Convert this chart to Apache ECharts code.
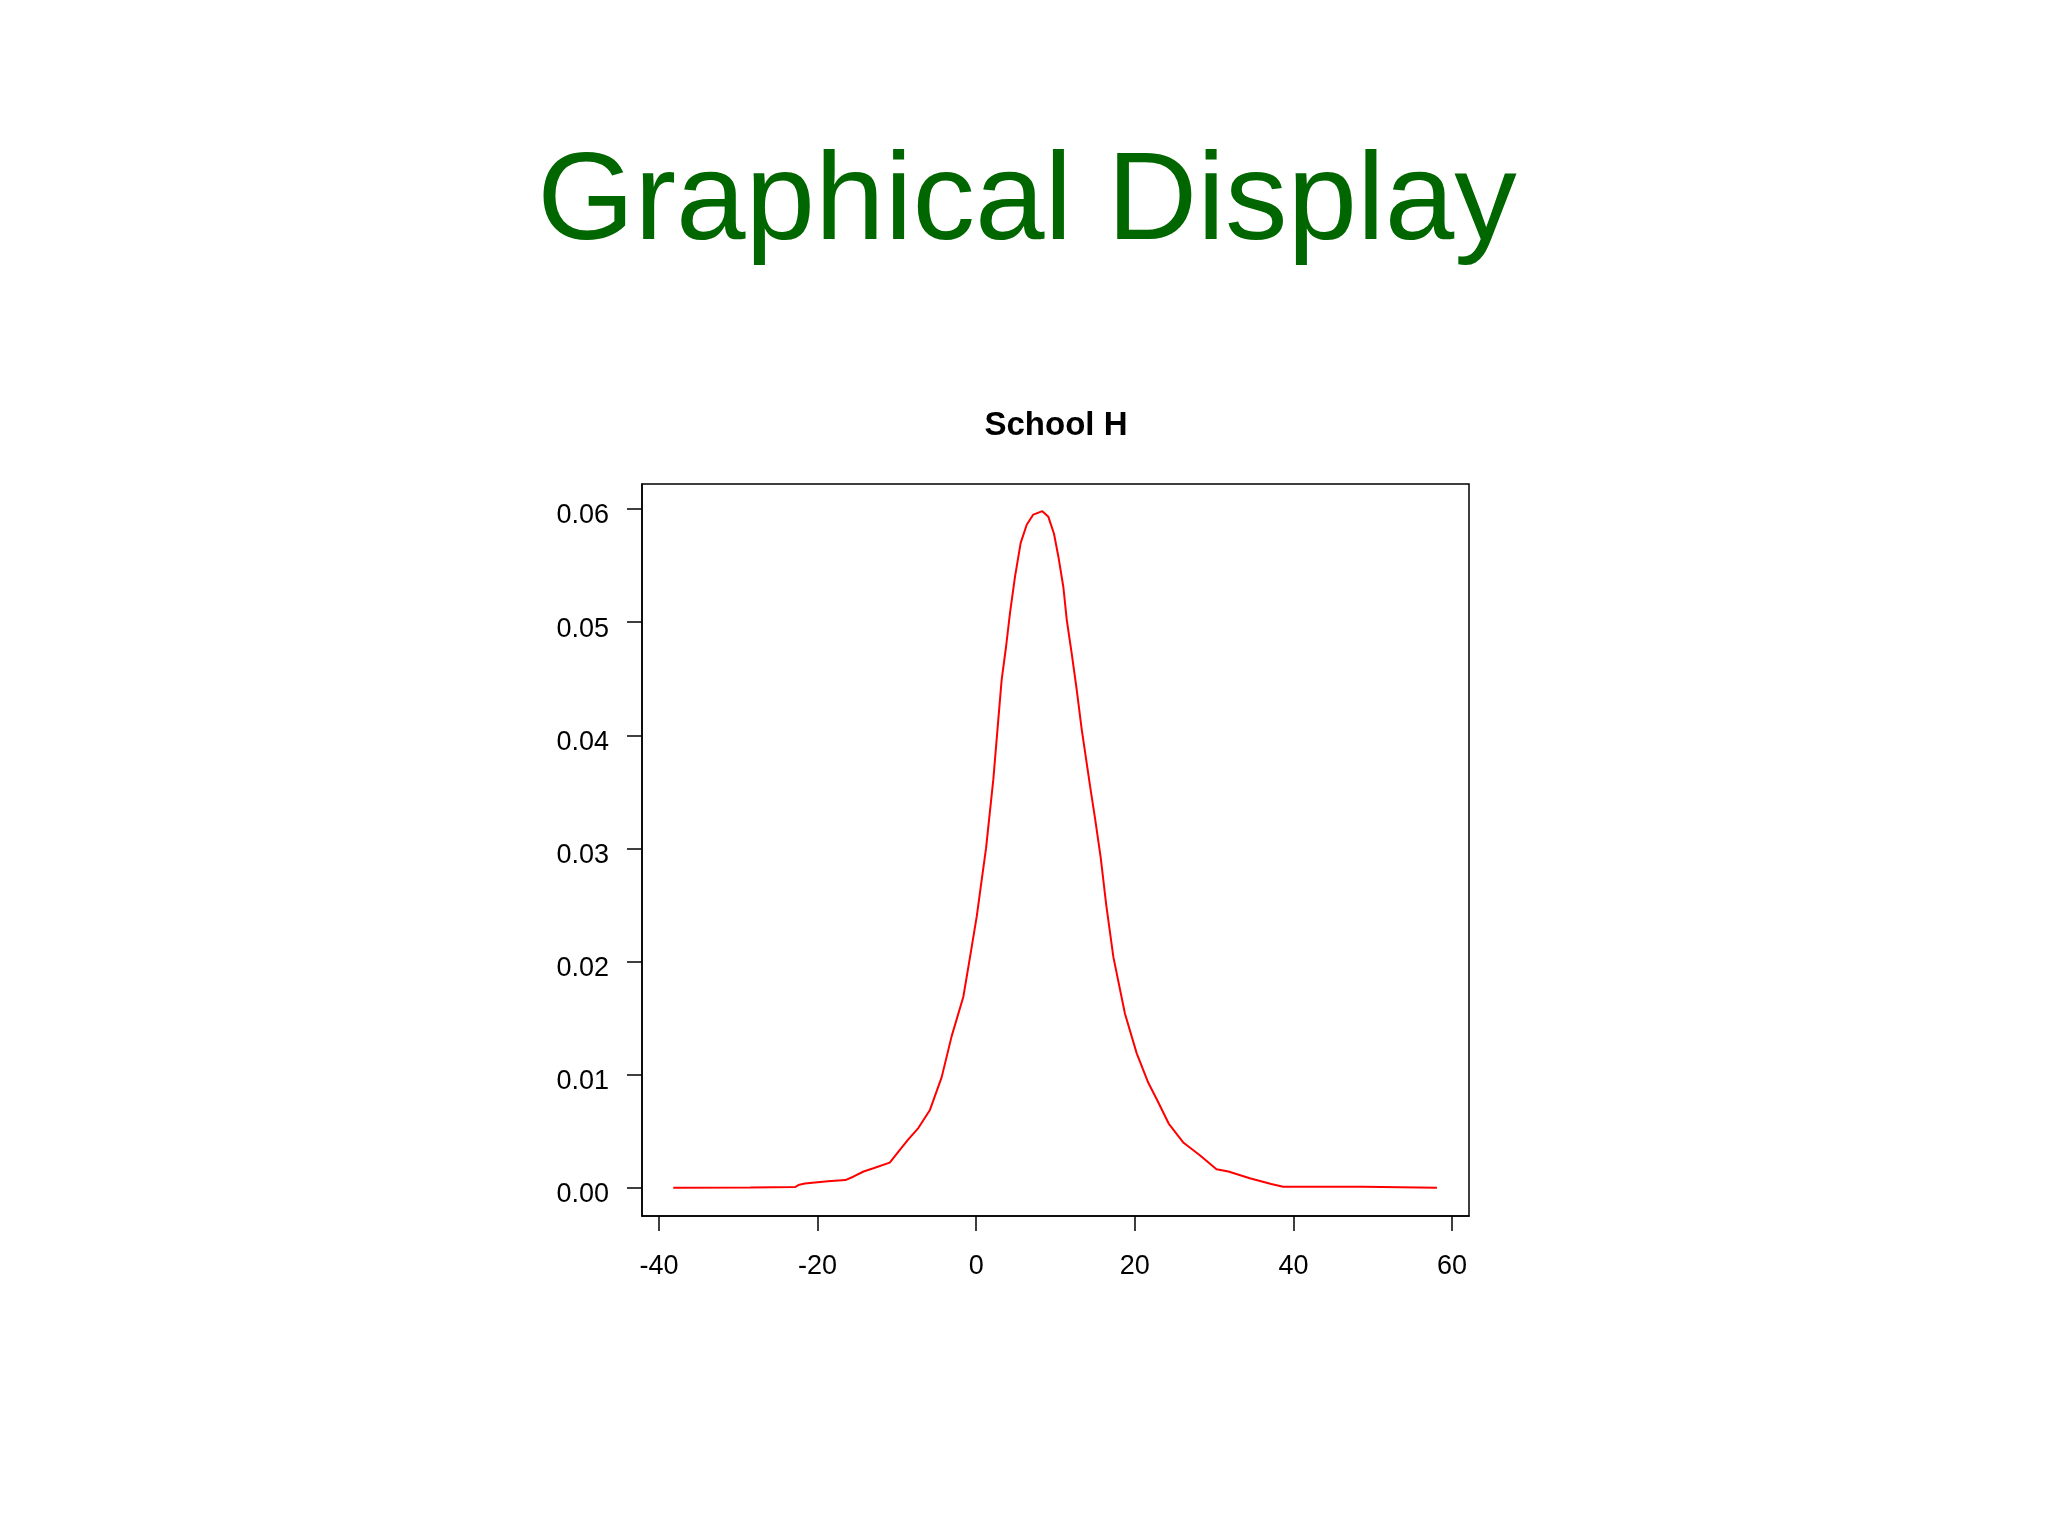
<!DOCTYPE html>
<html>
<head>
<meta charset="utf-8">
<script src="https://cdn.jsdelivr.net/npm/echarts@6/dist/echarts.min.js"></script>
<style>
html,body{margin:0;padding:0;background:#fff;}
#c{width:2048px;height:1536px;}
</style>
</head>
<body>
<div id="c"></div>
<script>
const pageTitle = "Graphical Display";
const chartTitle = "School H";
const xTicks = [-40, -20, 0, 20, 40, 60];
const yTicks = [0, 0.01, 0.02, 0.03, 0.04, 0.05, 0.06];
const densityX = [-38.2, -28.5, -28.4, -22.8, -22.3, -21.6, -18.7, -16.5, -15.5, -14.2, -12.96, -10.9, -9.6, -8.56, -7.3, -5.83, -4.35, -3.1, -1.62, -0.78, 0.07, 0.69, 1.24, 2.16, 2.79, 3.21, 3.76, 4.26, 4.89, 5.61, 6.37, 7.2, 8.34, 9.1, 9.81, 10.36, 10.99, 11.42, 12.05, 12.68, 13.31, 14.36, 15.0, 15.7, 16.4, 17.3, 18.76, 20.24, 21.7, 22.8, 24.27, 26.15, 28.2, 30.3, 31.8, 34.5, 37.2, 38.7, 48.8, 49.0, 58.1];
const densityY = [0.00002, 0.00004, 0.0001, 0.0001, 0.0003, 0.0004, 0.0006, 0.0007, 0.0010, 0.00146, 0.00175, 0.00225, 0.0034, 0.0043, 0.0053, 0.0069, 0.0098, 0.0134, 0.0169, 0.0204, 0.0240, 0.0272, 0.0300, 0.0361, 0.0414, 0.0449, 0.0478, 0.0508, 0.0540, 0.0570, 0.0586, 0.0595, 0.0598, 0.0593, 0.0578, 0.0558, 0.0531, 0.0502, 0.0472, 0.0440, 0.0405, 0.0355, 0.0326, 0.0292, 0.0250, 0.0204, 0.0154, 0.0119, 0.0093, 0.0078, 0.0057, 0.0040, 0.0029, 0.00166, 0.00146, 0.00087, 0.00036, 0.00012, 0.00012, 0.00002, 0.00002];

const seriesData = densityX.map((x, i) => [x, densityY[i]]);
const chart = echarts.init(document.getElementById('c'), null, {renderer: 'canvas'});
const font = '"Liberation Sans", Arial, Helvetica, sans-serif';
chart.setOption({
  animation: false,
  backgroundColor: '#ffffff',
  graphic: [
    {type: 'text', x: 1027, y: 205, style: {text: pageTitle, fill: '#006600', font: '125px ' + font, align: 'center', verticalAlign: 'middle'}},
    {type: 'text', x: 1056, y: 426, style: {text: chartTitle, fill: '#000000', font: 'bold 33px ' + font, align: 'center', verticalAlign: 'middle'}}
  ],
  grid: {left: 642, top: 484, width: 827, height: 732, show: true, borderColor: '#000', borderWidth: 1.5, backgroundColor: 'transparent'},
  xAxis: {
    type: 'value', min: -42.14, max: 62.14,
    axisLine: {show: true, onZero: false, lineStyle: {color: '#000', width: 1.5}},
    axisTick: {show: true, inside: false, length: 15, customValues: xTicks, lineStyle: {color: '#000', width: 1.5}},
    axisLabel: {show: true, customValues: xTicks, margin: 37, color: '#000', fontSize: 27, lineHeight: 27, fontFamily: font},
    splitLine: {show: false}
  },
  yAxis: {
    type: 'value', min: -0.00247, max: 0.0622,
    axisLine: {show: true, onZero: false, lineStyle: {color: '#000', width: 1.5}},
    axisTick: {show: true, inside: false, length: 15, customValues: yTicks, lineStyle: {color: '#000', width: 1.5}},
    axisLabel: {show: true, customValues: yTicks, margin: 33, color: '#000', fontSize: 27, lineHeight: 14, verticalAlign: 'top', fontFamily: font, formatter: v => v.toFixed(2)},
    splitLine: {show: false}
  },
  series: [{
    type: 'line', data: seriesData, showSymbol: false, symbol: 'none', smooth: false,
    lineStyle: {color: '#ff0000', width: 2}
  }]
});
</script>
</body>
</html>
